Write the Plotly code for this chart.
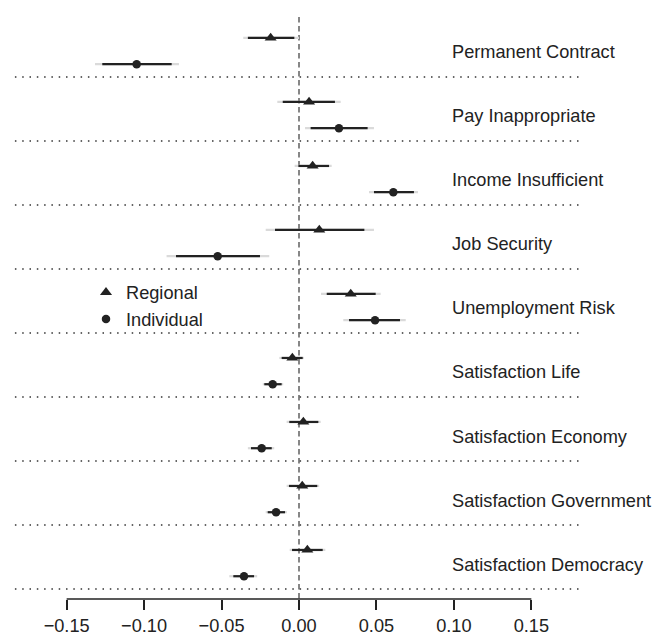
import plotly.graph_objects as go
import numpy as np

categories = ["Permanent Contract", "Pay Inappropriate", "Income Insufficient",
              "Job Security", "Unemployment Risk", "Satisfaction Life",
              "Satisfaction Economy", "Satisfaction Government", "Satisfaction Democracy"]

# Regional estimates (triangles)
reg_est = [-0.0183, 0.0065, 0.0088, 0.0131, 0.0334, -0.0043, 0.0028, 0.0021, 0.0054]
reg_in_lo = [-0.0330, -0.0105, -0.0004, -0.0155, 0.0179, -0.0112, -0.0063, -0.0065, -0.0045]
reg_in_hi = [-0.0030, 0.0232, 0.0194, 0.0422, 0.0495, 0.0024, 0.0125, 0.0118, 0.0153]
reg_out_lo = [-0.0360, -0.0140, -0.0028, -0.0215, 0.0142, -0.0127, -0.0080, -0.0080, -0.0060]
reg_out_hi = [0.0000, 0.0269, 0.0211, 0.0484, 0.0527, 0.0032, 0.0140, 0.0130, 0.0170]

# Individual estimates (circles)
ind_est = [-0.1048, 0.0258, 0.0609, -0.0525, 0.0491, -0.0170, -0.0241, -0.0148, -0.0355]
ind_in_lo = [-0.1270, 0.0075, 0.0484, -0.0794, 0.0323, -0.0224, -0.0310, -0.0202, -0.0424]
ind_in_hi = [-0.0822, 0.0443, 0.0742, -0.0252, 0.0652, -0.0112, -0.0176, -0.0090, -0.0290]
ind_out_lo = [-0.1317, 0.0039, 0.0452, -0.0855, 0.0286, -0.0234, -0.0330, -0.0215, -0.0450]
ind_out_hi = [-0.0775, 0.0484, 0.0768, -0.0192, 0.0689, -0.0102, -0.0160, -0.0078, -0.0270]

tick_vals = [-0.15, -0.10, -0.05, 0.00, 0.05, 0.10, 0.15]

n = len(categories)
idx = np.arange(n)
y_reg = idx + 0.39
y_ind = idx + 0.80
y_lab = idx + 0.617
y_sep = idx + 1.0

DARK = "#222222"
LIGHT = "#dadada"
FONT = "Liberation Sans, Arial, sans-serif"
FS = 18.2

def err(est, lo, hi):
    est = np.array(est); lo = np.array(lo); hi = np.array(hi)
    return dict(type="data", symmetric=False, array=hi - est, arrayminus=est - lo,
                width=0)

fig = go.Figure()
# outer (light) intervals
for est, lo, hi, yy in [(reg_est, reg_out_lo, reg_out_hi, y_reg),
                         (ind_est, ind_out_lo, ind_out_hi, y_ind)]:
    e = err(est, lo, hi); e.update(color=LIGHT, thickness=2.2)
    fig.add_trace(go.Scatter(x=est, y=yy, mode="markers", showlegend=False,
                             marker=dict(size=1, opacity=0), error_x=e, hoverinfo="skip"))
# inner (dark) intervals + points
e = err(reg_est, reg_in_lo, reg_in_hi); e.update(color=DARK, thickness=2.2)
fig.add_trace(go.Scatter(x=reg_est, y=y_reg, mode="markers", name="Regional",
                         marker=dict(symbol="triangle-up", size=10.5, color=DARK),
                         error_x=e))
e = err(ind_est, ind_in_lo, ind_in_hi); e.update(color=DARK, thickness=2.2)
fig.add_trace(go.Scatter(x=ind_est, y=y_ind, mode="markers", name="Individual",
                         marker=dict(symbol="circle", size=8.5, color=DARK),
                         error_x=e))

shapes = []
for ys in y_sep:
    shapes.append(dict(type="line", xref="x", yref="y", x0=-0.1834, x1=0.1834, y0=ys, y1=ys,
                       line=dict(color="#333333", width=1.5, dash="1.5px,5.8px"), layer="below"))
shapes.append(dict(type="line", xref="x", yref="y", x0=0, x1=0, y0=0.0625, y1=9.156,
                   line=dict(color="#555555", width=1.4, dash="5.5px,3.5px"), layer="below"))
shapes.append(dict(type="line", xref="x", yref="paper", x0=tick_vals[0], x1=tick_vals[-1], y0=0, y1=0,
                   line=dict(color=DARK, width=1.5)))

annotations = [dict(x=0.0975, y=yl, xref="x", yref="y", text=c, showarrow=False,
                    xanchor="left", yanchor="middle", font=dict(family=FONT, size=FS, color=DARK))
               for c, yl in zip(categories, y_lab)]

fig.update_layout(
    width=657, height=641,
    margin=dict(l=0, r=0, t=0, b=42),
    paper_bgcolor="white", plot_bgcolor="white",
    font=dict(family=FONT, size=FS, color=DARK),
    shapes=shapes, annotations=annotations,
    showlegend=True,
    legend=dict(x=86 / 657, y=1 - 274 / 599, xanchor="left", yanchor="top",
                bgcolor="rgba(0,0,0,0)", font=dict(family=FONT, size=FS, color=DARK),
                itemwidth=30, tracegroupgap=0),
    xaxis=dict(range=[-299 / 1549, (657 - 299) / 1549], tickvals=tick_vals,
               tickformat=".2f", ticks="outside", ticklen=10, tickwidth=1.5,
               tickcolor=DARK, showgrid=False, zeroline=False, showline=False,
               tickfont=dict(family=FONT, size=FS, color=DARK), fixedrange=True),
    yaxis=dict(range=[9.156, -0.203], visible=False, showgrid=False, zeroline=False,
               fixedrange=True),
)

fig.write_html("out.html", config={"displayModeBar": False},
               post_script="document.body.style.margin='0';document.body.style.padding='0';")
